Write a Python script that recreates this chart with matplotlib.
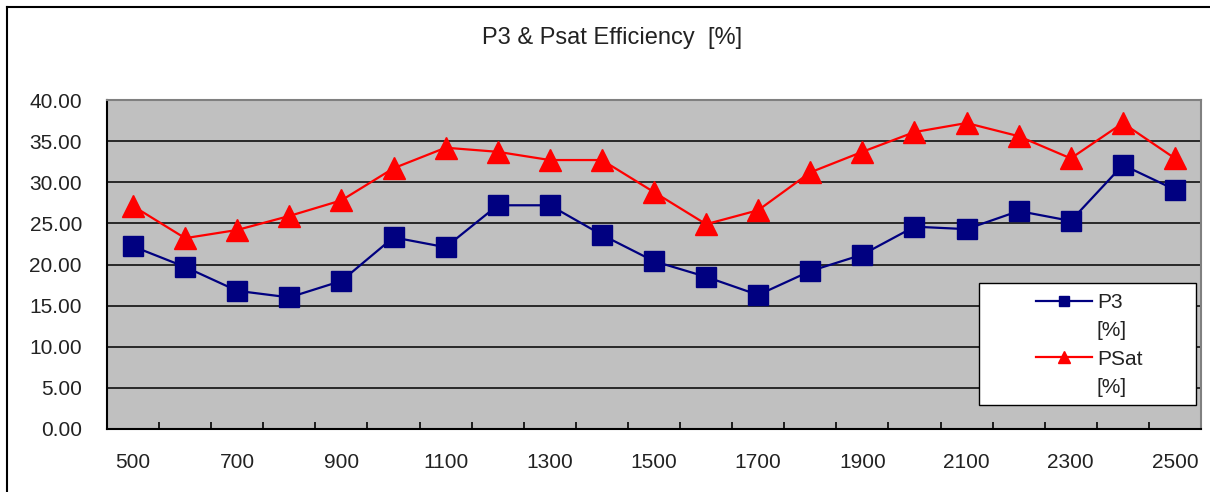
import matplotlib
matplotlib.use("Agg")
import matplotlib.pyplot as plt
from matplotlib.lines import Line2D
from matplotlib.patches import Rectangle

# Données
freq = [500, 600, 700, 800, 900, 1000, 1100, 1200, 1300, 1400, 1500,
        1600, 1700, 1800, 1900, 2000, 2100, 2200, 2300, 2400, 2500]
p3 = [22.2, 19.7, 16.8, 16.0, 18.0, 23.3, 22.1, 27.2, 27.2, 23.6, 20.4,
      18.5, 16.3, 19.2, 21.2, 24.6, 24.3, 26.5, 25.3, 32.1, 29.1]
psat = [27.1, 23.2, 24.2, 25.9, 27.8, 31.7, 34.2, 33.7, 32.7, 32.7, 28.8,
        24.9, 26.6, 31.2, 33.7, 36.1, 37.2, 35.6, 32.9, 37.2, 32.9]
yticks = [0, 5, 10, 15, 20, 25, 30, 35, 40]

plt.rcParams['font.family'] = ['Liberation Sans', 'DejaVu Sans']

W, H = 1210, 492
fig = plt.figure(figsize=(W / 100, H / 100), dpi=100)
ax = fig.add_axes([107 / W, 1 - 429 / H, (1201 - 107) / W, (429 - 100) / H])
ax.set_facecolor('#C0C0C0')

x = list(range(len(freq)))
ax.plot(x, p3, color='#000080', lw=1.6, marker='s', ms=14, mec='#000080', mfc='#000080', zorder=3)
ax.plot(x, psat, color='#FF0000', lw=1.6, marker='^', ms=16, mec='#FF0000', mfc='#FF0000', zorder=3)

ax.set_xlim(-0.5, len(freq) - 0.5)
ax.set_ylim(0, 40)
ax.set_yticks(yticks)
ax.set_yticklabels([f"{v:.2f}" for v in yticks])
ax.set_xticks(x[::2])
ax.set_xticklabels([str(f) for f in freq[::2]])
ax.set_xticks([i + 0.5 for i in x[:-1]], minor=True)
ax.tick_params(axis='x', which='major', length=0, pad=17, labelsize=15, colors='#222222')
ax.tick_params(axis='x', which='minor', length=5, direction='in', width=1.2, color='black')
ax.tick_params(axis='y', length=0, pad=18, labelsize=15, colors='#222222')

for y in yticks[1:-1]:
    ax.axhline(y, color='black', lw=1.1, zorder=1)

for side in ['left', 'bottom']:
    ax.spines[side].set_color('black')
    ax.spines[side].set_linewidth(1.5)
for side in ['top', 'right']:
    ax.spines[side].set_color('#808080')
    ax.spines[side].set_linewidth(1.5)

fig.text(612 / W, 1 - 38 / H, "P3 & Psat Efficiency  [%]", ha='center', va='center',
         fontsize=17, color='#222222')

# Cadre blanc de la légende, puis la légende centrée dedans
fig.add_artist(Rectangle((979 / W, 1 - 405 / H), (1196 - 979) / W, (405 - 283) / H,
                         transform=fig.transFigure, facecolor='white', edgecolor='black',
                         lw=1.0, zorder=4))
blank = Line2D([], [], linestyle='none')
h_p3 = Line2D([], [], color='#000080', lw=1.6, marker='s', ms=6.5)
h_ps = Line2D([], [], color='#FF0000', lw=1.6, marker='^', ms=9)
leg = fig.legend([h_p3, blank, h_ps, blank], ["P3", "[%]", "PSat", "[%]"],
                 loc='center', bbox_to_anchor=(1089 / W, 1 - 345 / H),
                 fontsize=15, frameon=False, handlelength=2.7, handletextpad=0.25,
                 borderpad=0, labelspacing=0.45)
leg.set_zorder(5)
for t in leg.get_texts():
    t.set_color('#222222')

# Cadre extérieur du graphique
fig.add_artist(Line2D([7 / W, 7 / W], [0, 1 - 7 / H], color='black', lw=1.5,
                      transform=fig.transFigure))
fig.add_artist(Line2D([7 / W, 1], [1 - 7 / H, 1 - 7 / H], color='black', lw=1.5,
                      transform=fig.transFigure))

fig.savefig("out.png", dpi=100)
